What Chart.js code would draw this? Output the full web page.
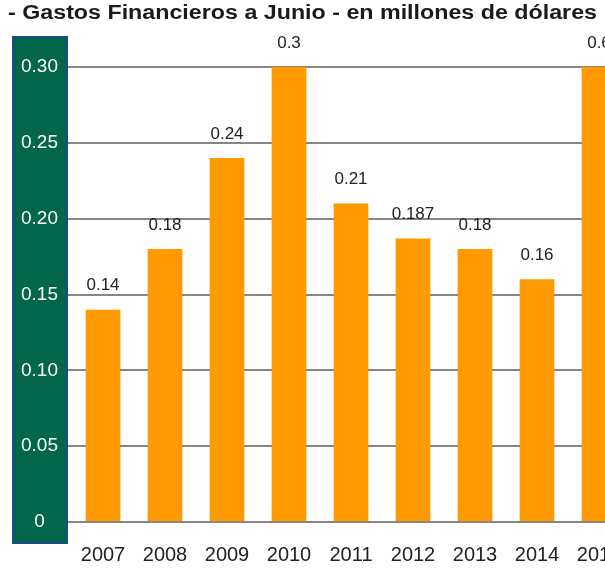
<!DOCTYPE html>
<html>
<head>
<meta charset="utf-8">
<script src="https://cdn.jsdelivr.net/npm/chart.js@4"></script>
<style>
  body { margin: 0; overflow: hidden; background: #fff; }
  canvas { display: block; }
</style>
</head>
<body>
<canvas id="myChart" width="640" height="571"></canvas>
<script>
// Data
const years = ['2007', '2008', '2009', '2010', '2011', '2012', '2013', '2014', '2015'];
const gastos = [0.14, 0.18, 0.24, 0.3, 0.21, 0.187, 0.18, 0.16, 0.6];
const valueLabels = ['0.14', '0.18', '0.24', '0.3', '0.21', '0.187', '0.18', '0.16', '0.6'];
const yTicks = [0, 0.05, 0.10, 0.15, 0.20, 0.25, 0.30];
const chartTitle = '- Gastos Financieros a Junio - en millones de dólares';

const FONT = '"Liberation Sans", Arial, sans-serif';

// green panel behind the y axis labels, plus the (wide) title
const axisPanel = {
    id: 'axisPanel',
    beforeDraw(chart) {
        const ctx = chart.ctx;
        const area = chart.chartArea;
        ctx.save();
        ctx.fillStyle = '#02664a';
        ctx.strokeStyle = '#1c4a86';
        ctx.lineWidth = 2;
        ctx.fillRect(13, area.top - 30, 54, area.bottom - area.top + 51);
        ctx.strokeRect(13, area.top - 30, 54, area.bottom - area.top + 51);

        // title, stretched a little sideways like the original
        ctx.font = 'bold 20px ' + FONT;
        ctx.fillStyle = '#1a1a1a';
        ctx.textBaseline = 'middle';
        ctx.textAlign = 'left';
        const w = ctx.measureText(chartTitle).width;
        ctx.translate(8, 13);
        ctx.scale(589 / w, 1);
        ctx.fillText(chartTitle, 0, 0);
        ctx.restore();
    }
};

// value labels above the bars
const barLabels = {
    id: 'barLabels',
    afterDatasetsDraw(chart) {
        const ctx = chart.ctx;
        const meta = chart.getDatasetMeta(0);
        ctx.save();
        ctx.font = '17px ' + FONT;
        ctx.fillStyle = '#222';
        ctx.textAlign = 'center';
        ctx.textBaseline = 'middle';
        meta.data.forEach((bar, i) => {
            const top = Math.max(bar.y, chart.chartArea.top);
            ctx.fillText(valueLabels[i], bar.x, top - 24);
        });
        ctx.restore();
    }
};

document.addEventListener('DOMContentLoaded', function() {
    const ctx = document.getElementById('myChart').getContext('2d');
    new Chart(ctx, {
        type: 'bar',
        data: {
            labels: years,
            datasets: [{
                data: gastos,
                backgroundColor: '#ff9a00',
                borderWidth: 0,
                categoryPercentage: 1,
                barPercentage: 0.56
            }]
        },
        options: {
            responsive: false,
            animation: false,
            layout: { padding: { left: 8, right: 10, top: 67, bottom: 2 } },
            plugins: {
                legend: { display: false },
                tooltip: { enabled: false },
                title: { display: false }
            },
            scales: {
                x: {
                    afterFit(scale) { scale.height = 47; },
                    grid: { display: false },
                    border: { display: false },
                    ticks: {
                        color: '#222',
                        padding: 13,
                        maxRotation: 0,
                        font: { family: FONT, size: 20 }
                    }
                },
                y: {
                    min: 0,
                    max: 0.30,
                    afterFit(scale) { scale.width = 64; },
                    afterBuildTicks(scale) {
                        scale.ticks = yTicks.map(v => ({ value: v }));
                    },
                    grid: { color: '#8a8484', lineWidth: 2, drawTicks: true, tickLength: 4, tickColor: '#8a8484' },
                    border: { display: false },
                    ticks: {
                        color: '#fff',
                        padding: 10,
                        crossAlign: 'center',
                        font: { family: FONT, size: 19 },
                        callback: v => v === 0 ? '0' : v.toFixed(2)
                    }
                }
            }
        },
        plugins: [axisPanel, barLabels]
    });
});
</script>
</body>
</html>
